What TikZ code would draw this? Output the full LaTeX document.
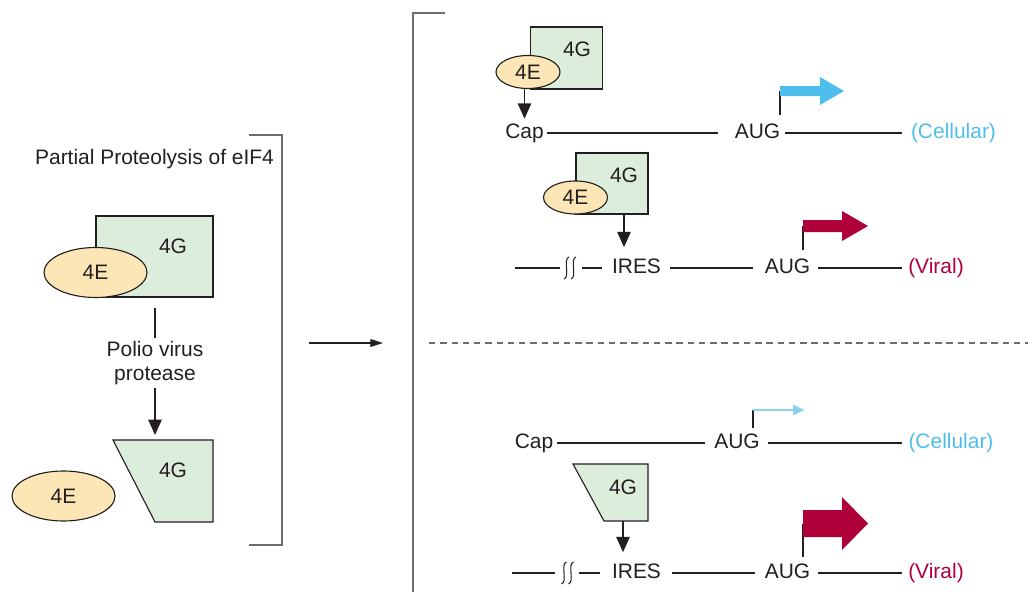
\documentclass[tikz,border=0pt]{standalone}
\usepackage{fontspec}
\setmainfont{Liberation Sans}
\usetikzlibrary{arrows.meta, calc, positioning, shapes.geometric}

\definecolor{boxgreen}{RGB}{221,237,220}
\definecolor{capsorange}{RGB}{253,230,181}
\definecolor{cellblue}{RGB}{77,190,236}
\definecolor{paleblue}{RGB}{140,210,240}
\definecolor{viralred}{RGB}{176,0,58}
\definecolor{inkgray}{RGB}{35,31,32}
\definecolor{rulegray}{RGB}{110,110,110}

\tikzset{
  txt/.style={font=\fontsize{14.9}{17}\selectfont, text=inkgray, inner sep=0pt},
  seq/.style={txt, text height=10.5pt, text depth=3pt},
  gbox/.style={draw=inkgray, fill=boxgreen, line width=0.8pt},
  ebox/.style={ellipse, draw=inkgray, fill=capsorange, line width=0.8pt, inner sep=0pt,
    font=\fontsize{14.9}{17}\selectfont, text=inkgray},
  bigcap/.style={ebox, minimum width=2.575cm, minimum height=1.25cm},
  smallcap/.style={ebox, minimum width=1.6cm, minimum height=0.825cm},
  rna/.style={draw=inkgray, line width=0.75pt},
  bindarrow/.style={draw=inkgray, line width=1.4pt, -{Triangle[width=9.5pt,length=11pt]}},
  brack/.style={draw=rulegray, line width=1.1pt},
  breakmark/.pic={
    \foreach \dx in {-3.5,3.5}
      \draw[rna] (\dx+2.5,-11) .. controls (\dx-4,-9) and (\dx+4,9) .. (\dx-2.5,11);
  },
}

\begin{document}
\begin{tikzpicture}[x=0.025cm, y=-0.025cm]
    \useasboundingbox (0,0) rectangle (1028,592);

    % Left panel: cleavage of eIF4G
    \node[txt] (title) at (154.5,159) {Partial Proteolysis of eIF4};
    \node[gbox, minimum width=2.925cm, minimum height=2.025cm] (g1) at (154.5,256.5) {};
    \node[txt] (g1lbl) at (173,246) {4G};
    \node[bigcap] (e1) at (95.5,272.5) {4E};
    \node[txt, align=center, minimum height=1.25cm] (prot) at (155,363) {Polio virus\\protease};

    \coordinate (g2a) at (113,440);
    \coordinate (g2b) at (213,440);
    \coordinate (g2c) at (213,522);
    \coordinate (g2d) at (155,522);
    \coordinate (g2top) at (155,440);
    \draw[gbox] (g2a) -- (g2b) -- (g2c) -- (g2d) -- cycle;
    \node[txt] (g2lbl) at (173,470) {4G};
    \node[bigcap] (e2) at (63.5,496) {4E};

    \draw[rna] ($(g1.south -| prot)+(0,10)$) -- (prot.north);
    \draw[bindarrow] (prot.south) -- ($(g2top)+(0,-5)$);
    \draw[brack] (249,135) -- (282,135) -- (282,545) -- (249,545);

    % Middle arrow, right bracket and divider
    \coordinate (stepin) at (309,343);
    \coordinate (stepout) at (383,343);
    \draw[rna, -{Triangle[width=5.5pt,length=9pt]}] (stepin) -- (stepout);
    \draw[brack] (445,13) -- (413,13) -- (413,592);
    \draw[rulegray, line width=0.8pt, dash pattern=on 4.5pt off 3.5pt] (429,343) -- (1028,343);

    % Uninfected: cap-dependent cellular mRNA
    \node[gbox, minimum width=1.8cm, minimum height=1.55cm] (g3) at (566.5,58) {};
    \node[txt] (g3lbl) at (577,49) {4G};
    \node[smallcap] (e3) at (528,72) {4E};
    \node[seq] (cap1) at (524.5,133) {Cap};
    \node[seq] (aug1) at (757.5,133) {AUG};
    \node[seq, text=cellblue] (cell1) at (953.5,133) {(Cellular)};
    \draw[bindarrow] (e3.south -| cap1) -- ($(cap1.north)+(0,-4.5)$);
    \draw[rna] ($(cap1.east)+(3,0)$) -- ($(aug1.west)+(-17,0)$);
    \draw[rna] ($(aug1.east)+(5,0)$) -- ($(cell1.west)+(-9,0)$);
    \coordinate (st1) at (780,115);
    \draw[rna] (st1) -- ++(0,-24);
    \fill[cellblue] (780,86) -- ++(40,0) -- ++(0,-9) -- ++(24,14) -- ++(-24,14) -- ++(0,-9) -- ++(-40,0) -- cycle;

    % Uninfected: IRES viral mRNA
    \node[gbox, minimum width=1.8cm, minimum height=1.525cm] (g4) at (612,183.5) {};
    \node[txt] (g4lbl) at (624,175) {4G};
    \node[smallcap] (e4) at (575.5,197.5) {4E};
    \node[seq] (ires2) at (636.5,268) {IRES};
    \node[seq] (aug2) at (787.5,268) {AUG};
    \node[seq, text=viralred] (vir2) at (936,268) {(Viral)};
    \draw[bindarrow] (g4.south -| g4lbl) -- ($(ires2.north -| g4lbl)+(0,-11)$);
    \coordinate (free2) at (515,268);
    \draw[rna] (free2) -- ++(45,0);
    \pic at (570,268) {breakmark};
    \draw[rna] ($(ires2.west)+(-30,0)$) -- ($(ires2.west)+(-10,0)$);
    \draw[rna] ($(ires2.east)+(9,0)$) -- ($(aug2.west)+(-12,0)$);
    \draw[rna] ($(aug2.east)+(8,0)$) -- ($(vir2.west)+(-6,0)$);
    \coordinate (st2) at (803,250);
    \draw[rna] (st2) -- ++(0,-24);
    \fill[viralred] (803,220) -- ++(39,0) -- ++(0,-9) -- ++(26,15) -- ++(-26,15) -- ++(0,-9) -- ++(-39,0) -- cycle;

    % Infected: cellular mRNA
    \node[seq] (cap3) at (534,443) {Cap};
    \node[seq] (aug3) at (737,443) {AUG};
    \node[seq, text=cellblue] (cell3) at (951,443) {(Cellular)};
    \draw[rna] ($(cap3.east)+(3.7,0)$) -- ($(aug3.west)+(-9.25,0)$);
    \draw[rna] ($(aug3.east)+(8.25,0)$) -- ($(cell3.west)+(-6.5,0)$);
    \coordinate (st3) at (753,428);
    \draw[rna] (st3) -- ++(0,-18);
    \draw[paleblue, line width=2pt, -{Triangle[width=7pt,length=8.5pt]}] (753,410) -- (805,410);

    % Infected: viral mRNA
    \coordinate (g5a) at (573,464);
    \coordinate (g5b) at (648,464);
    \coordinate (g5c) at (648,521);
    \coordinate (g5d) at (604,521);
    \coordinate (g5out) at (623,521);
    \draw[gbox] (g5a) -- (g5b) -- (g5c) -- (g5d) -- cycle;
    \node[txt] (g5lbl) at (623,487) {4G};
    \node[seq] (ires4) at (636.5,573) {IRES};
    \node[seq] (aug4) at (787.5,573) {AUG};
    \node[seq, text=viralred] (vir4) at (936,573) {(Viral)};
    \draw[bindarrow] (g5out) -- ($(ires4.north -| g5out)+(0,-11)$);
    \coordinate (free4) at (512,573);
    \draw[rna] (free4) -- ++(43,0);
    \pic at (567.5,573) {breakmark};
    \draw[rna] ($(ires4.west)+(-33,0)$) -- ($(ires4.west)+(-12,0)$);
    \draw[rna] ($(ires4.east)+(11,0)$) -- ($(aug4.west)+(-10,0)$);
    \draw[rna] ($(aug4.east)+(8,0)$) -- ($(vir4.west)+(-6,0)$);
    \coordinate (st4) at (803,557);
    \draw[rna] (st4) -- ++(0,-33);
    \fill[viralred] (803,510) -- ++(39,0) -- ++(0,-13) -- ++(26,26.5) -- ++(-26,26.5) -- ++(0,-13) -- ++(-39,0) -- cycle;

\end{tikzpicture}
\end{document}
